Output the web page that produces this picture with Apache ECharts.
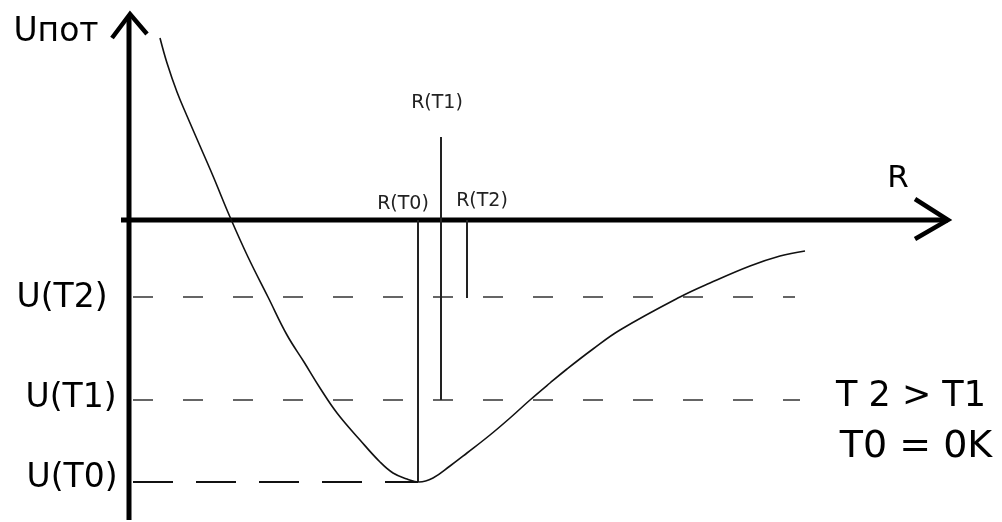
<!DOCTYPE html>
<html>
<head>
<meta charset="utf-8">
<script src="https://cdn.jsdelivr.net/npm/echarts@6/dist/echarts.min.js"></script>
<style>
  html, body { margin: 0; padding: 0; background: #fff; }
  #chart { width: 1002px; height: 522px; }
</style>
</head>
<body>
<div id="chart"></div>
<script>
// potential curve U(R), arbitrary units (origin at the axes crossing)
const curveR = [31, 38, 48, 58, 71, 84, 101, 119, 139, 158, 175, 191, 208, 231, 251, 264, 278, 290,
  304, 321, 338, 361, 381, 401, 421, 438, 464, 491, 551, 581, 621, 651, 676];
const curveU = [182, 157, 128, 104, 74, 44, 3, -37, -77, -115, -142, -168, -193, -220, -242, -253, -259, -262,
  -258, -246, -233, -215, -198, -180, -163, -149, -129, -110, -77, -63, -46, -36, -31];

// energy levels
const uNames = ["U(T0)", "U(T1)", "U(T2)"];
const uLevel = [-262, -180, -77];
const uEnd = [289, 671, 666];

// equilibrium distances
const rNames = ["R(T0)", "R(T1)", "R(T2)"];
const rPos = [289, 312, 338];
const rTop = [0, 83, 0];
const rBottom = [-262, -180, -78];

const font = "DejaVu Sans";
const chart = echarts.init(document.getElementById("chart"));

const series = [];

// axes drawn as thick lines with open arrow heads
series.push({
  type: "line",
  data: [[0, -300], [0, 204]],
  symbol: "none",
  lineStyle: { color: "#000", width: 5 },
});
series.push({
  type: "line",
  data: [[-17, 182], [1, 206], [18, 186]],
  symbol: "none",
  lineStyle: { color: "#000", width: 4.5, join: "miter" },
});
series.push({
  type: "line",
  data: [[-8, 0], [819, 0]],
  symbol: "none",
  lineStyle: { color: "#000", width: 5 },
});
series.push({
  type: "line",
  data: [[786, 21], [819, 0], [786, -19]],
  symbol: "none",
  lineStyle: { color: "#000", width: 4.5, join: "miter" },
});

// dashed level lines
uLevel.forEach((u, i) => {
  series.push({
    type: "line",
    data: [[4, u], [uEnd[i], u]],
    symbol: "none",
    lineStyle: {
      color: i === 0 ? "#111" : "#333",
      width: i === 0 ? 2 : 1.6,
      type: i === 0 ? [40, 23] : [20, 30],
    },
  });
});

// vertical R lines
rPos.forEach((r, i) => {
  series.push({
    type: "line",
    data: [[r, rTop[i]], [r, rBottom[i]]],
    symbol: "none",
    lineStyle: { color: "#222", width: 2 },
  });
});

// the curve
series.push({
  type: "line",
  data: curveR.map((r, i) => [r, curveU[i]]),
  smooth: 0.4,
  symbol: "none",
  lineStyle: { color: "#111", width: 1.6 },
});

// text labels
const texts = [
  { value: [-73, 188], text: "Uпот", size: 33 },
  { value: [-67, -78], text: uNames[2], size: 33 },
  { value: [-58, -178], text: uNames[1], size: 33 },
  { value: [-57, -258], text: uNames[0], size: 33 },
  { value: [769, 41], text: "R", size: 31 },
  { value: [274, 16], text: rNames[0], size: 19 },
  { value: [308, 117], text: rNames[1], size: 19 },
  { value: [353, 19], text: rNames[2], size: 19 },
  { value: [782, -177], text: "T 2 > T1", size: 35 },
  { value: [787, -227], text: "T0 = 0K", size: 38 },
];
series.push({
  type: "scatter",
  symbolSize: 0,
  itemStyle: { opacity: 1 },
  data: texts.map((t) => ({
    value: t.value,
    label: {
      show: true,
      position: "inside",
      formatter: t.text,
      fontSize: t.size,
      fontFamily: font,
      color: t.size < 20 ? "#222" : "#000",
    },
  })),
});

chart.setOption({
  animation: false,
  backgroundColor: "#fff",
  grid: { left: 0, right: 0, top: 0, bottom: 0 },
  xAxis: { type: "value", min: -129, max: 873, show: false },
  yAxis: { type: "value", min: -302, max: 220, show: false },
  series: series.map((s) => Object.assign({ silent: true, clip: false }, s)),
});
</script>
</body>
</html>
